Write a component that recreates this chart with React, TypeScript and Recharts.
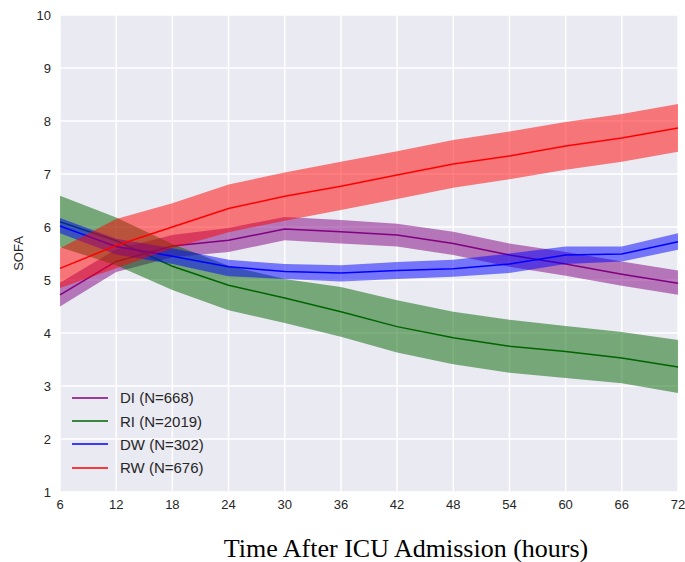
import React from "react";
import {
  ComposedChart,
  Area,
  Line,
  XAxis,
  YAxis,
  CartesianGrid,
} from "recharts";

const hours = [6, 12, 18, 24, 30, 36, 42, 48, 54, 60, 66, 72];
const yTicks = [1, 2, 3, 4, 5, 6, 7, 8, 9, 10];

const diMean = [4.72, 5.35, 5.64, 5.75, 5.96, 5.91, 5.85, 5.69, 5.47, 5.3, 5.11, 4.94];
const diLo = [4.5, 5.15, 5.43, 5.53, 5.75, 5.69, 5.63, 5.47, 5.25, 5.08, 4.89, 4.72];
const diHi = [4.95, 5.58, 5.85, 5.98, 6.19, 6.13, 6.06, 5.91, 5.69, 5.53, 5.35, 5.18];

const riMean = [6.1, 5.74, 5.26, 4.9, 4.66, 4.4, 4.12, 3.91, 3.75, 3.65, 3.53, 3.36];
const riLo = [5.62, 5.28, 4.81, 4.43, 4.19, 3.93, 3.63, 3.41, 3.25, 3.15, 3.05, 2.87];
const riHi = [6.59, 6.18, 5.68, 5.27, 5.02, 4.87, 4.62, 4.4, 4.25, 4.13, 4.02, 3.87];

const dwMean = [6.02, 5.63, 5.45, 5.25, 5.16, 5.13, 5.18, 5.21, 5.3, 5.47, 5.49, 5.72];
const dwLo = [5.88, 5.48, 5.3, 5.07, 5.02, 4.97, 5.02, 5.06, 5.13, 5.3, 5.35, 5.57];
const dwHi = [6.17, 5.78, 5.6, 5.38, 5.3, 5.28, 5.34, 5.38, 5.5, 5.63, 5.63, 5.88];

const rwMean = [5.22, 5.65, 6.0, 6.35, 6.58, 6.77, 6.98, 7.19, 7.34, 7.53, 7.68, 7.87];
const rwLo = [4.85, 5.22, 5.6, 5.9, 6.12, 6.32, 6.53, 6.74, 6.9, 7.08, 7.23, 7.42];
const rwHi = [5.6, 6.15, 6.45, 6.8, 7.03, 7.23, 7.43, 7.64, 7.8, 7.98, 8.13, 8.32];

const series = [
  { key: "di", name: "DI (N=668)", color: "#800080", mean: diMean, lo: diLo, hi: diHi },
  { key: "ri", name: "RI (N=2019)", color: "#006400", mean: riMean, lo: riLo, hi: riHi },
  { key: "dw", name: "DW (N=302)", color: "#0000ff", mean: dwMean, lo: dwLo, hi: dwHi },
  { key: "rw", name: "RW (N=676)", color: "#ff0000", mean: rwMean, lo: rwLo, hi: rwHi },
];

const data = hours.map((h, i) => {
  const row: any = { hour: h };
  series.forEach((s) => {
    row[s.key] = s.mean[i];
    row[s.key + "Band"] = [s.lo[i], s.hi[i]];
  });
  return row;
});

const sans = "Liberation Sans, Arial, sans-serif";
const tickStyle = { fill: "#262626", fontSize: 13, fontFamily: sans };

function LegendBox() {
  return (
    <div
      style={{
        position: "absolute",
        left: 72,
        top: 386,
        fontFamily: sans,
        fontSize: 15,
        color: "#262626",
      }}
    >
      {series.map((s) => (
        <div key={s.key} style={{ display: "flex", alignItems: "center", height: 23.4 }}>
          <svg width={36} height={6} style={{ marginRight: 12 }}>
            <line x1={0} y1={3} x2={36} y2={3} stroke={s.color} strokeWidth={1.5} />
          </svg>
          <span>{s.name}</span>
        </div>
      ))}
    </div>
  );
}

export default function App() {
  return (
    <div style={{ position: "relative", width: 685, height: 562, background: "#fff" }}>
      <style>{"body{margin:0}"}</style>
      <ComposedChart
        width={685}
        height={562}
        data={data}
        margin={{ top: 15, right: 7, left: 10, bottom: 0 }}
      >
        <CartesianGrid fill="#EAEAF2" stroke="#ffffff" strokeWidth={1.5} />
        <XAxis
          dataKey="hour"
          type="number"
          domain={[6, 72]}
          ticks={hours}
          axisLine={false}
          tickLine={false}
          tick={tickStyle}
          height={70}
          label={{
            value: "Time After ICU Admission (hours)",
            position: "insideBottom",
            offset: 5,
            dx: 37,
            style: { fontSize: 26, fill: "#000", fontFamily: "Liberation Serif, Times New Roman, serif" },
          }}
        />
        <YAxis
          type="number"
          domain={[1, 10]}
          ticks={yTicks}
          axisLine={false}
          tickLine={false}
          tickMargin={3}
          tick={tickStyle}
          width={50}
          label={{
            value: "SOFA",
            angle: -90,
            position: "insideLeft",
            offset: 8,
            style: { textAnchor: "middle", fontSize: 13, fill: "#262626", fontFamily: sans },
          }}
        />
        {series.map((s, i) => [
          <Area
            key={s.key + "Band"}
            dataKey={s.key + "Band"}
            type="linear"
            stroke="none"
            fill={s.color}
            fillOpacity={0.5}
            legendType="none"
            isAnimationActive={false}
            zIndex={100 + i * 2}
          />,
          <Line
            key={s.key}
            dataKey={s.key}
            name={s.name}
            type="linear"
            stroke={s.color}
            strokeWidth={1.5}
            dot={false}
            activeDot={false}
            isAnimationActive={false}
            zIndex={101 + i * 2}
          />,
        ])}
      </ComposedChart>
      <LegendBox />
    </div>
  );
}
